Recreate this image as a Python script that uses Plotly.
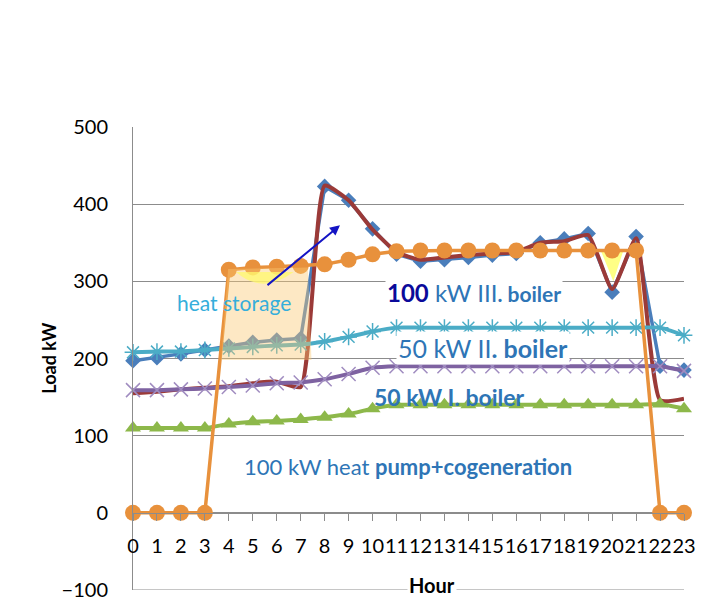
import plotly.graph_objects as go

hours = list(range(24))
total_load = [197, 201, 206, 211, 216, 221, 224, 226, 423, 405, 368, 335, 326, 328, 331, 334, 336, 350, 355, 362, 286, 358, 190, 185]
boiler3 = [155, 157, 160, 162, 164, 168, 170, 163, 424, 405, 367, 338, 328, 331, 334, 336, 338, 350, 352, 360, 290, 356, 146, 148]
boiler2 = [208, 209, 209, 211, 213, 215, 217, 218, 222, 228, 235, 240, 240, 240, 240, 240, 240, 240, 240, 240, 240, 240, 240, 230]
boiler1 = [159, 159, 160, 161, 163, 165, 168, 169, 173, 180, 188, 190, 190, 190, 190, 190, 190, 190, 190, 190, 190, 190, 190, 184]
heatpump = [110, 110, 110, 110, 115, 118, 119, 121, 124, 128, 135, 140, 140, 140, 140, 140, 140, 140, 140, 140, 140, 140, 141, 135]
storage = [0, 0, 0, 0, 315, 318, 319, 320, 322, 328, 335, 339, 340, 340, 340, 340, 340, 340, 340, 340, 340, 340, 0, 0]
y_ticks = [-100, 0, 100, 200, 300, 400, 500]

FONT = "Lato"
GRID = "#8c8c8c"

fig = go.Figure()

fig.add_trace(go.Scatter(x=hours, y=total_load, mode="lines+markers",
                         line=dict(color="#4A7EBB", width=3.5),
                         marker=dict(symbol="diamond", size=12, color="#4A7EBB"),
                         cliponaxis=False))
fig.add_trace(go.Scatter(x=hours, y=boiler3, mode="lines",
                         line=dict(color="#9B3A38", width=4, shape="spline", smoothing=0.5),
                         cliponaxis=False))
fig.add_trace(go.Scatter(x=hours, y=boiler2, mode="lines+markers",
                         line=dict(color="#4BACC6", width=4, shape="spline", smoothing=0.5),
                         marker=dict(symbol="asterisk-open", size=14, color="#4BACC6",
                                     line=dict(width=1.5, color="#4BACC6")),
                         cliponaxis=False))
fig.add_trace(go.Scatter(x=hours, y=boiler1, mode="lines+markers",
                         line=dict(color="#7E62A1", width=4, shape="spline", smoothing=0.5),
                         marker=dict(symbol="x-thin-open", size=14, color="#A08CC0",
                                     line=dict(width=1.5, color="#A08CC0")),
                         cliponaxis=False))
fig.add_trace(go.Scatter(x=hours, y=heatpump, mode="lines+markers",
                         line=dict(color="#8DB84A", width=4, shape="spline", smoothing=0.5),
                         marker=dict(symbol="triangle-up", size=14, color="#8DB84A"),
                         cliponaxis=False))
fig.add_trace(go.Scatter(x=hours, y=storage, mode="lines+markers",
                         line=dict(color="#E8913C", width=3.5),
                         marker=dict(symbol="circle", size=16, color="#E8913C"),
                         cliponaxis=False))

# bottom gridline at -100
fig.add_shape(type="line", xref="x", yref="y", layer="below",
              x0=0, x1=23, y0=-100, y1=-100, line=dict(color=GRID, width=1))

# heat storage shaded region
fig.add_shape(type="path", xref="x", yref="y", layer="above",
              path="M 3.68,198 L 3.97,316 L 7.3,318 L 7.45,198 Z",
              fillcolor="rgba(250,200,115,0.42)", line=dict(width=0))
fig.add_shape(type="path", xref="x", yref="y", layer="above",
              path="M 4.3,312 Q 5.4,282 6.7,312 Z",
              fillcolor="rgba(255,250,110,0.75)", line=dict(width=0))
fig.add_shape(type="path", xref="x", yref="y", layer="below",
              path="M 19.55,338 L 20.45,338 L 20.05,300 Z",
              fillcolor="rgba(255,255,120,0.9)", line=dict(width=0))

fig.add_annotation(x=8.64, y=372.6, ax=5.55, ay=293.5, xref="x", yref="y",
                   axref="x", ayref="y", showarrow=True, arrowhead=2, arrowsize=1,
                   arrowwidth=2, arrowcolor="#1414C4", text="")

blue = "#2E75B6"
fig.add_annotation(x=4.22, y=273, xref="x", yref="y", showarrow=False,
                   text="heat storage", font=dict(family=FONT, size=21, color="#35AEDB"))
fig.add_annotation(x=14.23, y=285, xref="x", yref="y", showarrow=False, bgcolor="white",
                   text="<span style='color:#0A0A9A'><b>100</b></span> kW III<b><span style='font-size:21px'>. boiler</span></b>",
                   font=dict(family=FONT, size=24, color=blue))
fig.add_annotation(x=14.6, y=213, xref="x", yref="y", showarrow=False, bgcolor="white",
                   text="50 kW II<b>. boiler</b>",
                   font=dict(family=FONT, size=25, color=blue))
fig.add_annotation(x=13.23, y=150.5, xref="x", yref="y", showarrow=False,
                   text="<b>50 kW I. boiler</b>",
                   font=dict(family=FONT, size=23, color=blue))
fig.add_annotation(x=11.46, y=60, xref="x", yref="y", showarrow=False,
                   text="100 kW heat <b>pump+cogeneration</b>",
                   font=dict(family=FONT, size=22, color=blue))

fig.add_annotation(x=12.5, y=-93, xref="x", yref="y", showarrow=False, bgcolor="white",
                   text="<b>Hour</b>", font=dict(family=FONT, size=20, color="black"))
fig.add_annotation(x=-0.154, y=0.5, xref="paper", yref="paper", showarrow=False,
                   xanchor="center", yanchor="middle",
                   textangle=-90, text="<b>Load kW</b>",
                   font=dict(family=FONT, size=18, color="black"))

fig.update_layout(
    width=712, height=609,
    margin=dict(l=125, r=36, t=119, b=27, autoexpand=False),
    paper_bgcolor="white", plot_bgcolor="white",
    showlegend=False,
    font=dict(family=FONT, size=20, color="black"),
    xaxis=dict(range=[0, 23], tickvals=hours, ticktext=[str(h) for h in hours],
               anchor="free", position=1/6, showline=True, linecolor=GRID, linewidth=1,
               ticks="outside", ticklen=7, tickcolor=GRID, showgrid=False, zeroline=False,
               tickangle=0, automargin=False,
               tickfont=dict(family=FONT, size=20), ticklabelstandoff=8),
    yaxis=dict(range=[-100, 500], tickvals=y_ticks, showgrid=True, gridcolor=GRID,
               gridwidth=1, zeroline=False, showline=True, linecolor=GRID, ticks="",
               automargin=False,
               tickfont=dict(family=FONT, size=20), ticklabelstandoff=20),
)

fig.write_html("out.html")
